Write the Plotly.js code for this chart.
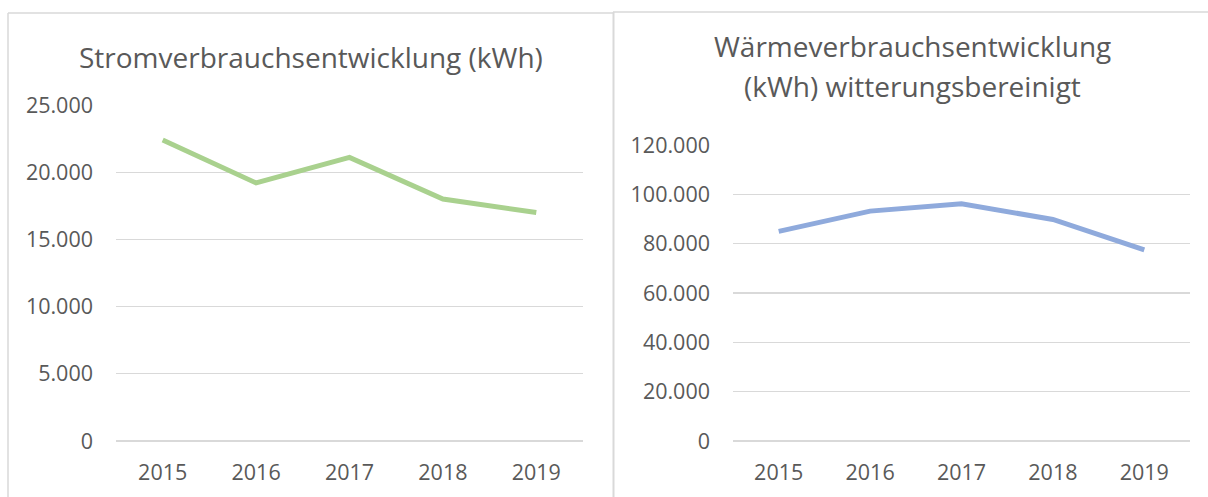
<!DOCTYPE html>
<html>
<head>
<meta charset="utf-8">
<script src="https://cdn.plot.ly/plotly-3.0.1.min.js"></script>
<style>
  html, body { margin: 0; padding: 0; background: #fff; }
  #chart { width: 1208px; height: 497px; }
</style>
</head>
<body>
<div id="chart"></div>
<script>
// ---- Data ----
const years = ["2015", "2016", "2017", "2018", "2019"];
const stromValues = [22400, 19200, 21100, 18000, 17000];
const waermeValues = [85000, 93200, 96200, 89800, 77500];
const stromTitle = "Stromverbrauchsentwicklung (kWh)";
const waermeTitleLine1 = "Wärmeverbrauchsentwicklung";
const waermeTitleLine2 = "(kWh) witterungsbereinigt";
const stromTicks = [0, 5000, 10000, 15000, 20000, 25000];
const waermeTicks = [0, 20000, 40000, 60000, 80000, 100000, 120000];

// ---- Layout helpers ----
const W = 1208, H = 497;
const px = x => x / W;
const py = y => (H - y) / H;
const FONT = "Open Sans, Noto Sans, sans-serif";
const TXT = "#595959";
const GRID = "#D9D9D9";

const traces = [
  {
    x: years, y: stromValues, type: "scatter", mode: "lines",
    line: { color: "#A9D18E", width: 5, shape: "linear" },
    xaxis: "x", yaxis: "y", hoverinfo: "x+y"
  },
  {
    x: years, y: waermeValues, type: "scatter", mode: "lines",
    line: { color: "#8FAADC", width: 5, shape: "linear" },
    xaxis: "x2", yaxis: "y2", hoverinfo: "x+y"
  }
];

const xBase = {
  type: "category", range: [-0.5, 4.5], showgrid: false, zeroline: false,
  showline: false, ticks: "", fixedrange: true,
  tickfont: { family: FONT, size: 21.5, color: TXT }, ticklabelstandoff: 16
};
const yBase = {
  showgrid: true, gridcolor: GRID, gridwidth: 1.3,
  zeroline: true, zerolinecolor: GRID, zerolinewidth: 1.3,
  showline: false, ticks: "", fixedrange: true, tickformat: ",d",
  tickfont: { family: FONT, size: 21.5, color: TXT }, ticklabelstandoff: 22
};

const titleFont = { family: FONT, size: 28, color: TXT };

const layout = {
  width: W, height: H,
  margin: { l: 0, r: 0, t: 0, b: 0 },
  paper_bgcolor: "#fff", plot_bgcolor: "rgba(0,0,0,0)",
  separators: ",.",
  showlegend: false,
  xaxis: Object.assign({}, xBase, { domain: [px(116), px(583)], anchor: "y" }),
  yaxis: Object.assign({}, yBase, {
    domain: [py(441), py(105)], anchor: "x",
    range: [0, 25000], tickvals: stromTicks
  }),
  xaxis2: Object.assign({}, xBase, { domain: [px(733), px(1190)], anchor: "y2" }),
  yaxis2: Object.assign({}, yBase, {
    domain: [py(441), py(145)], anchor: "x2",
    range: [0, 120000], tickvals: waermeTicks
  }),
  annotations: [
    {
      text: stromTitle, xref: "paper", yref: "paper",
      x: px(311), y: py(57), xanchor: "center", yanchor: "middle",
      showarrow: false, font: titleFont
    },
    {
      text: waermeTitleLine1, xref: "paper", yref: "paper",
      x: px(912), y: py(46), xanchor: "center", yanchor: "middle",
      showarrow: false, font: titleFont
    },
    {
      text: waermeTitleLine2, xref: "paper", yref: "paper",
      x: px(912), y: py(86), xanchor: "center", yanchor: "middle",
      showarrow: false, font: titleFont
    }
  ],
  shapes: [
    { type: "line", xref: "paper", yref: "paper",
      x0: px(8), x1: px(8), y0: py(497), y1: py(13),
      line: { color: GRID, width: 1.5 } },
    { type: "line", xref: "paper", yref: "paper",
      x0: px(8), x1: px(613), y0: py(13), y1: py(13),
      line: { color: GRID, width: 1.5 } },
    { type: "line", xref: "paper", yref: "paper",
      x0: px(613.5), x1: px(613.5), y0: py(497), y1: py(12),
      line: { color: GRID, width: 2 } },
    { type: "line", xref: "paper", yref: "paper",
      x0: px(613), x1: px(1208), y0: py(12), y1: py(12),
      line: { color: GRID, width: 1.5 } }
  ]
};

Plotly.newPlot("chart", traces, layout, { displayModeBar: false, staticPlot: true });
</script>
</body>
</html>
